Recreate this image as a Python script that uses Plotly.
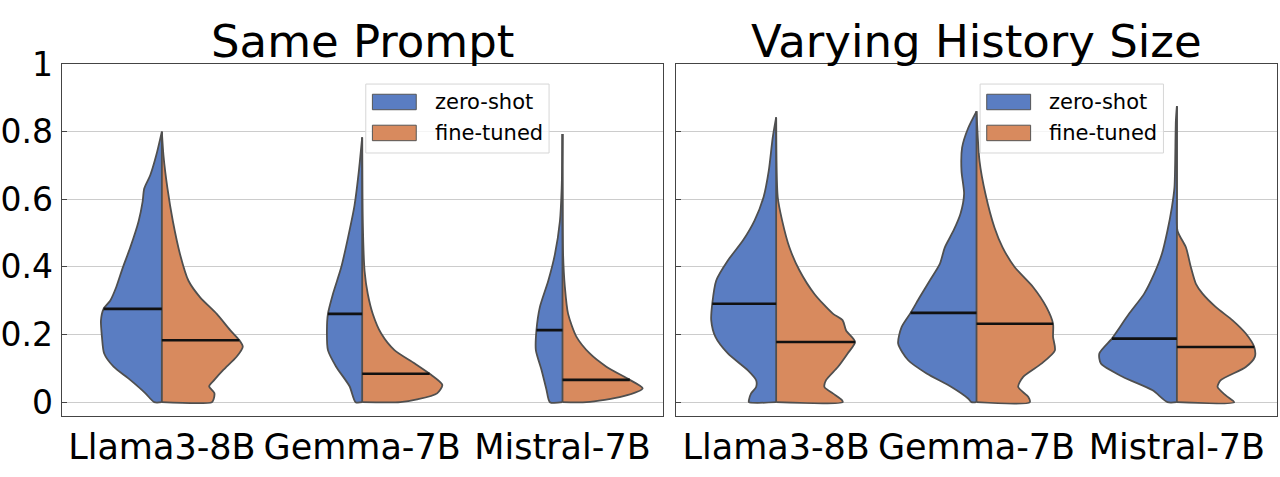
import numpy as np
import plotly.graph_objects as go

# models on the x axis and the two runs in each split violin
models = ["Llama3-8B", "Gemma-7B", "Mistral-7B"]
series = ["zero-shot", "fine-tuned"]
panel_titles = ["Same Prompt", "Varying History Size"]

y_ticks = [0, 0.2, 0.4, 0.6, 0.8, 1]
y_tick_text = ["0", "0.2", "0.4", "0.6", "0.8", "1"]

# half-violin outlines: score level and half width (x units)
# --- Same Prompt ---
sp_llama_zs_y = [0, 0.027, 0.066, 0.105, 0.144, 0.193, 0.242, 0.276, 0.30, 0.34, 0.398, 0.457, 0.535, 0.593, 0.632, 0.671, 0.73, 0.80]
sp_llama_zs_w = [0.038, 0.083, 0.158, 0.241, 0.288, 0.299, 0.304, 0.291, 0.258, 0.228, 0.195, 0.158, 0.116, 0.096, 0.088, 0.058, 0.028, 0]
sp_llama_ft_y = [0, 0.008, 0.027, 0.047, 0.066, 0.096, 0.135, 0.164, 0.183, 0.213, 0.261, 0.31, 0.359, 0.437, 0.535, 0.632, 0.73, 0.80]
sp_llama_ft_w = [0.25, 0.258, 0.262, 0.236, 0.262, 0.308, 0.374, 0.404, 0.387, 0.341, 0.274, 0.191, 0.133, 0.091, 0.055, 0.028, 0.008, 0]

sp_gemma_zs_y = [0, 0.047, 0.105, 0.154, 0.213, 0.261, 0.32, 0.398, 0.486, 0.583, 0.681, 0.783]
sp_gemma_zs_w = [0.033, 0.063, 0.13, 0.171, 0.176, 0.171, 0.146, 0.105, 0.071, 0.038, 0.017, 0]
sp_gemma_ft_y = [0, 0.008, 0.026, 0.051, 0.081, 0.115, 0.154, 0.203, 0.261, 0.32, 0.388, 0.535, 0.783]
sp_gemma_ft_w = [0.19, 0.274, 0.374, 0.4, 0.344, 0.261, 0.161, 0.095, 0.053, 0.028, 0.012, 0.003, 0]

sp_mistral_zs_y = [0, 0.037, 0.096, 0.154, 0.213, 0.281, 0.359, 0.437, 0.535, 0.635, 0.793]
sp_mistral_zs_w = [0.063, 0.08, 0.105, 0.133, 0.13, 0.113, 0.071, 0.038, 0.013, 0.004, 0]
sp_mistral_ft_y = [0, 0.017, 0.041, 0.066, 0.105, 0.144, 0.193, 0.261, 0.34, 0.437, 0.793]
sp_mistral_ft_w = [0.12, 0.3, 0.4, 0.336, 0.219, 0.136, 0.07, 0.028, 0.012, 0.003, 0]

sp_median_zs = [0.276, 0.261, 0.213]
sp_median_ft = [0.183, 0.084, 0.066]

# --- Varying History Size ---
vh_llama_zs_y = [0, 0.006, 0.026, 0.045, 0.065, 0.094, 0.144, 0.193, 0.242, 0.291, 0.36, 0.419, 0.478, 0.537, 0.606, 0.684, 0.783, 0.842]
vh_llama_zs_w = [0.136, 0.136, 0.125, 0.1, 0.1, 0.141, 0.241, 0.303, 0.324, 0.319, 0.299, 0.241, 0.166, 0.108, 0.063, 0.037, 0.017, 0]
vh_llama_ft_y = [0, 0.006, 0.026, 0.045, 0.065, 0.104, 0.144, 0.178, 0.212, 0.242, 0.262, 0.32, 0.39, 0.458, 0.537, 0.606, 0.842]
vh_llama_ft_w = [0.332, 0.329, 0.283, 0.241, 0.249, 0.308, 0.357, 0.394, 0.349, 0.332, 0.283, 0.191, 0.116, 0.066, 0.03, 0.008, 0]

vh_gemma_zs_y = [0, 0.011, 0.045, 0.085, 0.124, 0.173, 0.222, 0.264, 0.311, 0.36, 0.409, 0.458, 0.507, 0.557, 0.616, 0.684, 0.753, 0.81, 0.86]
vh_gemma_zs_w = [0.025, 0.042, 0.125, 0.249, 0.341, 0.391, 0.374, 0.329, 0.283, 0.233, 0.183, 0.158, 0.115, 0.08, 0.062, 0.075, 0.072, 0.042, 0]
vh_gemma_ft_y = [0, 0.016, 0.045, 0.075, 0.114, 0.153, 0.193, 0.232, 0.281, 0.34, 0.399, 0.458, 0.516, 0.615, 0.713, 0.86]
vh_gemma_ft_w = [0.266, 0.258, 0.208, 0.233, 0.324, 0.391, 0.382, 0.382, 0.349, 0.283, 0.191, 0.13, 0.09, 0.045, 0.015, 0]

vh_mistral_zs_y = [0, 0.035, 0.075, 0.114, 0.144, 0.188, 0.212, 0.262, 0.321, 0.38, 0.438, 0.507, 0.576, 0.635, 0.832, 0.875]
vh_mistral_zs_w = [0.047, 0.121, 0.271, 0.379, 0.387, 0.324, 0.296, 0.238, 0.163, 0.113, 0.075, 0.047, 0.025, 0.012, 0.005, 0]
vh_mistral_ft_y = [0, 0.02, 0.045, 0.065, 0.104, 0.134, 0.163, 0.203, 0.242, 0.281, 0.321, 0.35, 0.399, 0.458, 0.507, 0.6, 0.875]
vh_mistral_ft_w = [0.286, 0.244, 0.203, 0.219, 0.344, 0.389, 0.386, 0.344, 0.278, 0.195, 0.128, 0.095, 0.07, 0.045, 0.003, 0, 0]

vh_median_zs = [0.291, 0.264, 0.188]
vh_median_ft = [0.178, 0.232, 0.163]

panels = [
    {
        "zs": [(sp_llama_zs_y, sp_llama_zs_w), (sp_gemma_zs_y, sp_gemma_zs_w), (sp_mistral_zs_y, sp_mistral_zs_w)],
        "ft": [(sp_llama_ft_y, sp_llama_ft_w), (sp_gemma_ft_y, sp_gemma_ft_w), (sp_mistral_ft_y, sp_mistral_ft_w)],
        "med_zs": sp_median_zs, "med_ft": sp_median_ft,
    },
    {
        "zs": [(vh_llama_zs_y, vh_llama_zs_w), (vh_gemma_zs_y, vh_gemma_zs_w), (vh_mistral_zs_y, vh_mistral_zs_w)],
        "ft": [(vh_llama_ft_y, vh_llama_ft_w), (vh_gemma_ft_y, vh_gemma_ft_w), (vh_mistral_ft_y, vh_mistral_ft_w)],
        "med_zs": vh_median_zs, "med_ft": vh_median_ft,
    },
]

BLUE = "#5a7dc2"
ORANGE = "#d88a5e"
EDGE = "#4f4f4f"
FONT = "DejaVu Sans"

fig = go.Figure()


def half_violin(center, ys, ws, side, color, xa, ya):
    ys = np.asarray(ys, dtype=float)
    ws = np.asarray(ws, dtype=float)
    xs = center + side * ws
    # start on the centre line so the closing segment is the straight centre line
    px = np.concatenate([[center], xs])
    py = np.concatenate([[0.0], ys])
    fig.add_trace(go.Scatter(
        x=px, y=py, mode="lines", fill="toself", fillcolor=color,
        line=dict(color=EDGE, width=1.8, shape="spline", smoothing=0.7),
        xaxis=xa, yaxis=ya, showlegend=False, hoverinfo="skip"))


for p, panel in enumerate(panels):
    xa = "x" if p == 0 else "x2"
    ya = "y" if p == 0 else "y2"
    for i in range(len(models)):
        zy, zw = panel["zs"][i]
        fy, fw = panel["ft"][i]
        half_violin(i, zy, zw, -1, BLUE, xa, ya)
        half_violin(i, fy, fw, 1, ORANGE, xa, ya)
        top = max(zy[-1], fy[-1])
        fig.add_trace(go.Scatter(
            x=[i, i], y=[0, top], mode="lines", line=dict(color=EDGE, width=1.8),
            xaxis=xa, yaxis=ya, showlegend=False, hoverinfo="skip"))
        mz = panel["med_zs"][i]
        mf = panel["med_ft"][i]
        wz = np.interp(mz, zy, zw)
        wf = np.interp(mf, fy, fw)
        fig.add_trace(go.Scatter(
            x=[i - wz, i], y=[mz, mz], mode="lines", line=dict(color="#111111", width=2.6),
            xaxis=xa, yaxis=ya, showlegend=False, hoverinfo="skip"))
        fig.add_trace(go.Scatter(
            x=[i, i + wf], y=[mf, mf], mode="lines", line=dict(color="#111111", width=2.6),
            xaxis=xa, yaxis=ya, showlegend=False, hoverinfo="skip"))

x_domains = [[0.0482, 0.5177], [0.5281, 0.9977]]
y_domain = [0.1285, 0.8658]

axis_common = dict(showline=True, mirror=True, linecolor="#444444", linewidth=1.3, automargin=False)

fig.update_layout(
    width=1280, height=477,
    margin=dict(l=0, r=0, t=0, b=0),
    paper_bgcolor="white", plot_bgcolor="white",
    font=dict(family=FONT, color="black"),
    xaxis=dict(domain=x_domains[0], range=[-0.5, 2.5], tickvals=[0, 1, 2], ticktext=models,
               ticks="", showgrid=False, zeroline=False, tickfont=dict(size=35, family=FONT),
               anchor="y", **axis_common),
    xaxis2=dict(domain=x_domains[1], range=[-0.5, 2.5], tickvals=[0, 1, 2], ticktext=models,
                ticks="", showgrid=False, zeroline=False, tickfont=dict(size=35, family=FONT),
                anchor="y2", **axis_common),
    yaxis=dict(domain=y_domain, range=[-0.04, 1.0], tickvals=y_ticks, ticktext=y_tick_text,
               ticks="inside", ticklen=5, tickcolor="#444444", showgrid=True, gridcolor="#cccccc",
               gridwidth=1, zeroline=False, tickfont=dict(size=33, family=FONT),
               ticklabelstandoff=1, anchor="x", **axis_common),
    yaxis2=dict(domain=y_domain, range=[-0.04, 1.0], tickvals=y_ticks, showticklabels=False,
                ticks="inside", ticklen=5, tickcolor="#444444", showgrid=True, gridcolor="#cccccc",
                gridwidth=1, zeroline=False, anchor="x2", **axis_common),
)

# titles and the in-panel legends
for p in range(2):
    xd = "x domain" if p == 0 else "x2 domain"
    yd = "y domain" if p == 0 else "y2 domain"
    fig.add_annotation(text=panel_titles[p], xref=xd, yref="paper", x=0.5, y=0.914,
                       xanchor="center", yanchor="middle", showarrow=False,
                       font=dict(size=45, family=FONT, color="black"))
    fig.add_shape(type="rect", xref=xd, yref=yd, x0=0.506, x1=0.811, y0=0.747, y1=0.943,
                  fillcolor="rgba(255,255,255,0.8)", line=dict(color="#d6d6d6", width=1), layer="above")
    for k, (name, col, yc) in enumerate(zip(series, [BLUE, ORANGE], [0.892, 0.804])):
        fig.add_shape(type="rect", xref=xd, yref=yd, x0=0.517, x1=0.590, y0=yc - 0.022, y1=yc + 0.022,
                      fillcolor=col, line=dict(color="#555555", width=1), layer="above")
        fig.add_annotation(text=name, xref=xd, yref=yd, x=0.618, y=yc, xanchor="left", yanchor="middle",
                           showarrow=False, font=dict(size=21, family=FONT, color="black"))

# the page's default body margin would shift the figure by 8px
fig.write_html("out.html", config={"displayModeBar": False},
               post_script="document.body.style.margin = '0px';")
